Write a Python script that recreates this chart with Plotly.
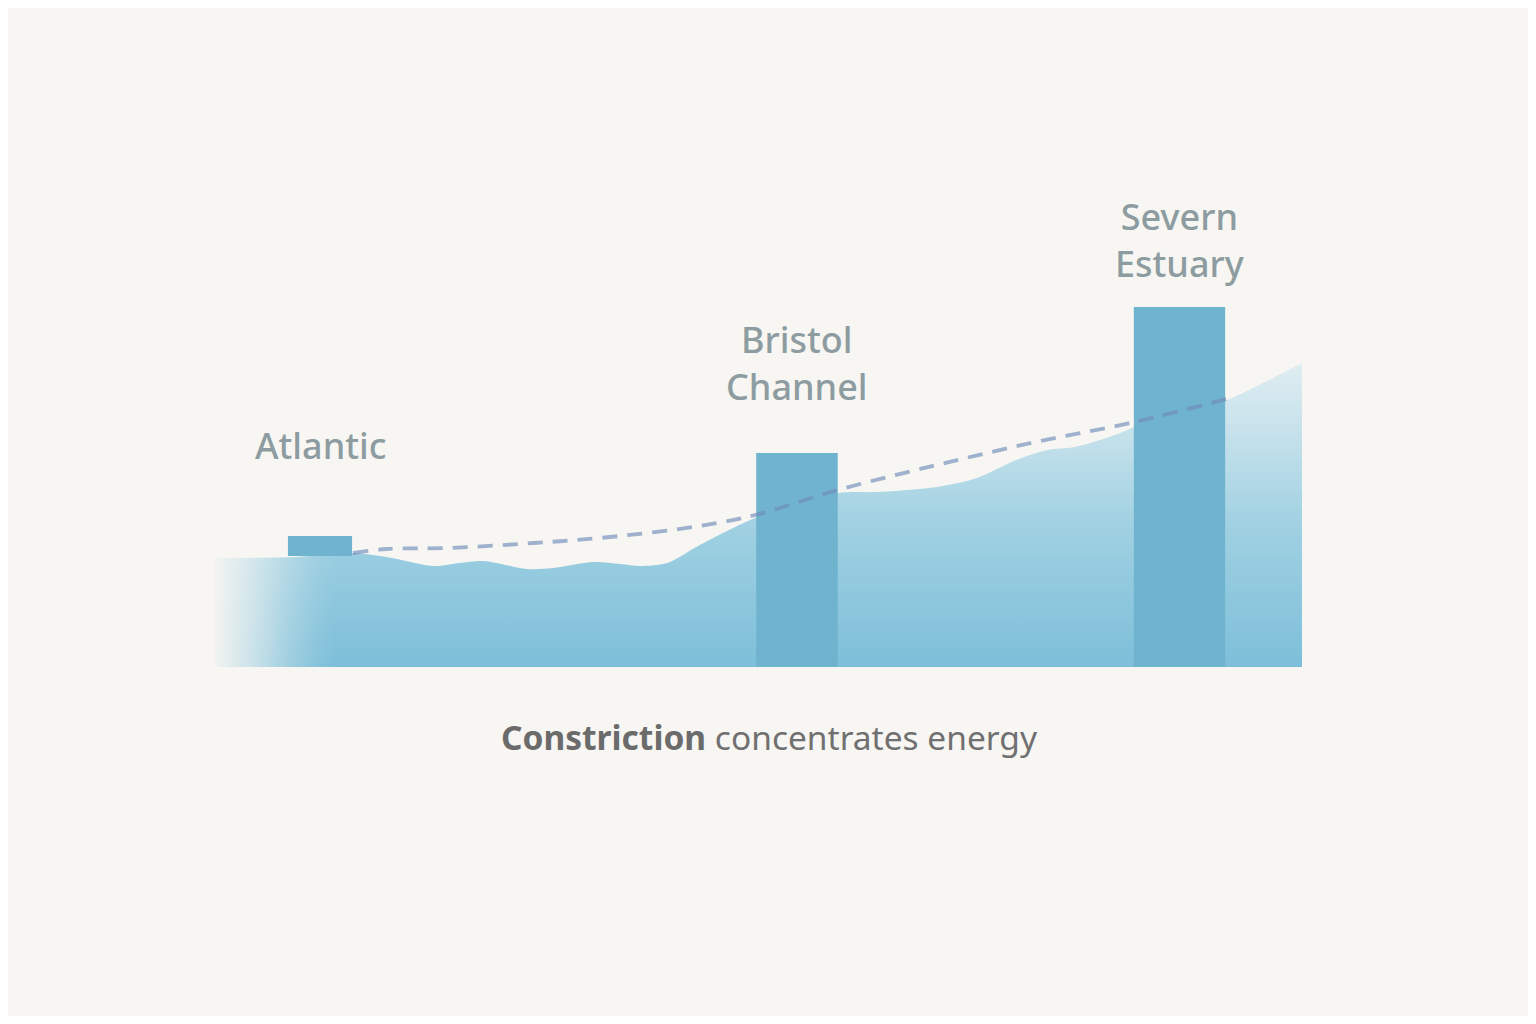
import plotly.graph_objects as go

# water surface profile along the channel (km from open sea, relative height)
wave_km = [0.0, 7.5, 9.7, 12.7, 15.8, 20.1, 22.5, 24.7, 28.7, 31.1, 34.8, 37.3, 39.1,
           41.6, 44.6, 49.7, 57.3, 61.0, 66.4, 70.1, 73.7, 76.6, 79.1, 82.8, 84.6,
           93.1, 96.4, 100.0]
wave_h = [21.8, 22.0, 22.4, 22.8, 22.0, 20.2, 20.8, 21.2, 19.6, 19.8, 21.0, 20.6, 20.2,
          20.8, 24.4, 29.8, 34.8, 35.0, 36.0, 37.8, 41.4, 43.4, 44.0, 46.4, 48.0,
          53.4, 56.8, 60.8]

# tidal range bars
places = ["Atlantic", "Bristol<br>Channel", "Severn<br>Estuary"]
bar_km = [9.66, 53.54, 88.73]
bar_width = [5.9, 7.5, 8.4]
bar_base = [22.2, 0, 0]
bar_height = [4.0, 42.8, 72.0]
label_h = [44.4, 60.8, 85.4]

# dashed energy trend
trend_km = [12.7, 15.8, 21.6, 29.3, 35.4, 44.6, 49.7, 57.3, 66.4, 75.5, 84.6, 93.4]
trend_h = [22.8, 23.6, 23.8, 24.8, 25.8, 28.2, 30.4, 35.4, 40.4, 45.0, 49.0, 53.8]

fade_end = 11.0  # km over which the sea fades in on the left

bg = "#f7f6f2"

fig = go.Figure()

fig.add_trace(go.Scatter(
    x=wave_km, y=wave_h, mode="lines", line=dict(width=0, shape="spline", smoothing=0.8),
    fill="tozeroy",
    fillgradient=dict(type="vertical",
                      colorscale=[[0, "#7dbfd9"], [0.45, "#9fd0e2"], [0.8, "#c9e3ec"], [1, "#dfedf1"]]),
    hoverinfo="skip", showlegend=False,
))

fade_x = [k for k in wave_km if k <= fade_end] + [fade_end]
fade_y = [h for k, h in zip(wave_km, wave_h) if k <= fade_end] + [22.6]
fig.add_trace(go.Scatter(
    x=fade_x, y=[v + 0.3 for v in fade_y], mode="lines", line=dict(width=0),
    fill="tozeroy",
    fillgradient=dict(type="horizontal",
                      colorscale=[[0, "rgba(247,246,242,0.95)"], [0.3, "rgba(247,246,242,0.65)"],
                                  [0.6, "rgba(247,246,242,0.3)"], [0.85, "rgba(247,246,242,0.08)"],
                                  [1, "rgba(247,246,242,0)"]]),
    hoverinfo="skip", showlegend=False,
))

# bars and trend on an overlaid axis so they sit above the water
fig.add_trace(go.Bar(
    x=bar_km, y=bar_height, base=bar_base, width=bar_width,
    marker=dict(color="#70b3cf", line=dict(width=0)),
    xaxis="x2", yaxis="y2", hoverinfo="skip", showlegend=False,
))
fig.add_trace(go.Scatter(
    x=trend_km, y=trend_h, mode="lines",
    line=dict(color="rgba(110,140,185,0.65)", width=3.8, dash="15px,10px", shape="spline"),
    xaxis="x2", yaxis="y2", hoverinfo="skip", showlegend=False,
))

for name, k, h in zip(places, bar_km, label_h):
    fig.add_annotation(x=k, y=h, xref="x2", yref="y2", text=name, showarrow=False,
                       font=dict(family="Noto Sans", size=36, color="#8d9ca0", weight=500),
                       xanchor="center", yanchor="middle")

fig.add_annotation(
    x=0.51, y=-0.14, xref="paper", yref="paper", showarrow=False,
    text="<b><span style='color:#6b6b6b'>Constriction</span></b> concentrates energy",
    font=dict(family="Noto Sans", size=33.5, color="#707070"),
    xanchor="center", yanchor="middle",
)

# page adds an 8px body margin, so the figure is 16px smaller and shifted
ax = dict(range=[0, 100], visible=False, fixedrange=True)
ay = dict(range=[0, 100], visible=False, fixedrange=True)
fig.update_layout(
    width=1520, height=1008,
    margin=dict(l=207, r=226, t=159, b=349),
    paper_bgcolor=bg, plot_bgcolor=bg,
    xaxis=ax, yaxis=ay,
    xaxis2=dict(ax, overlaying="x"), yaxis2=dict(ay, overlaying="y"),
    barmode="overlay",
)

fig.write_html("out.html")
